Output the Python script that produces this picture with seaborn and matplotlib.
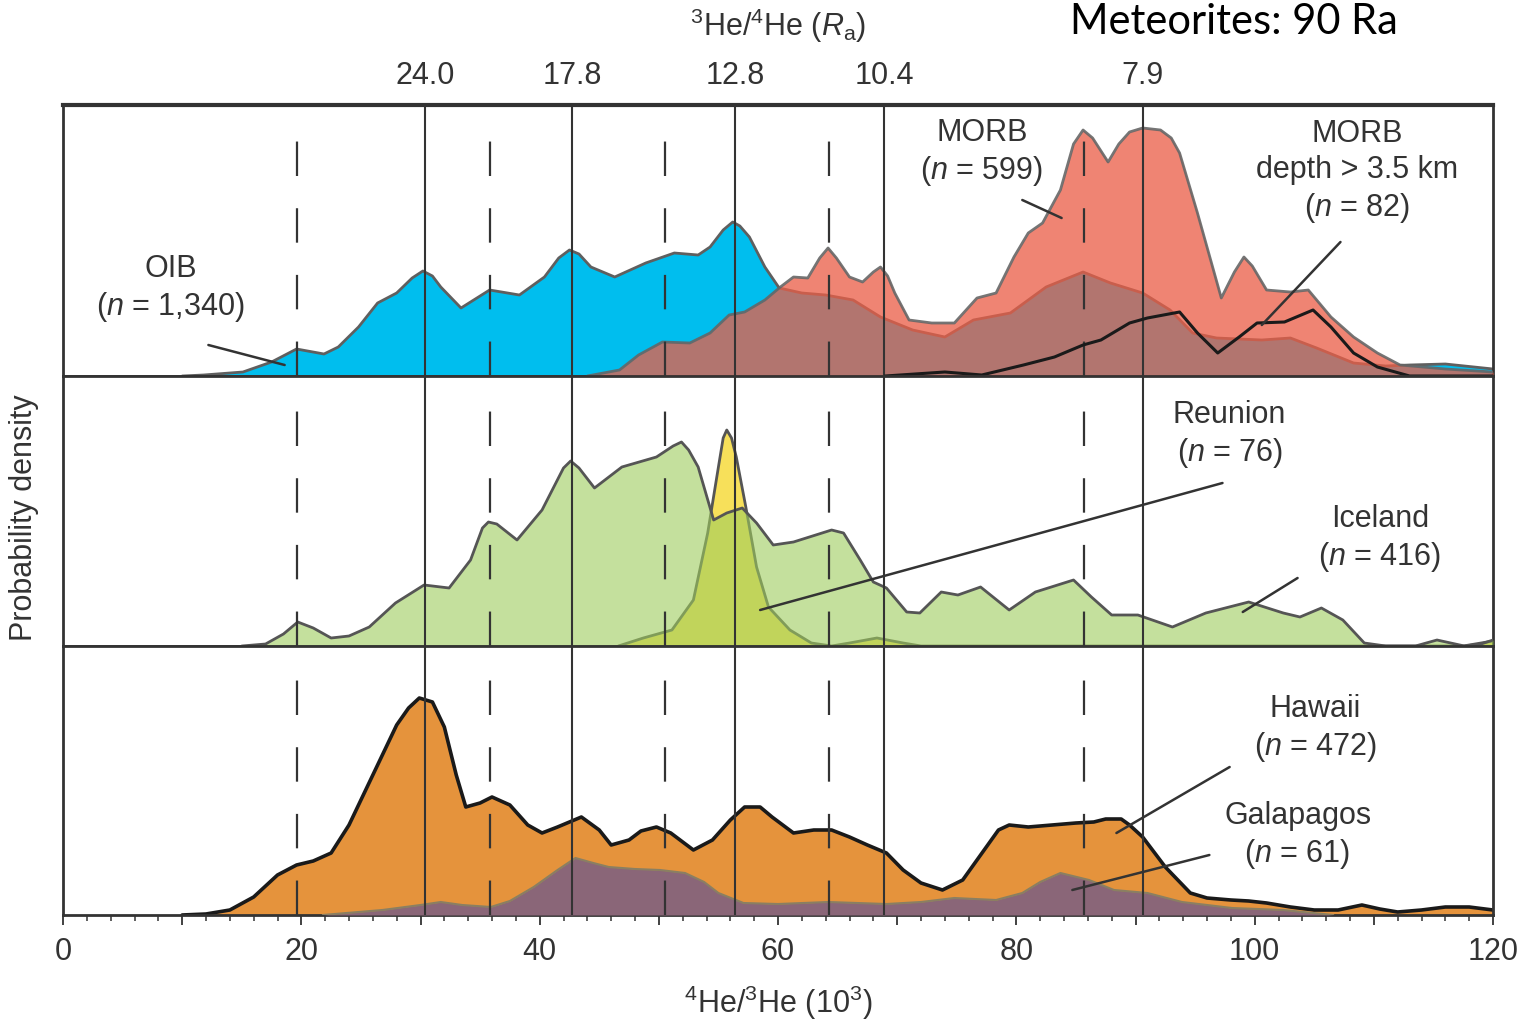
import numpy as np
import matplotlib
matplotlib.use("Agg")
import matplotlib.pyplot as plt
import seaborn as sns
from matplotlib.ticker import MultipleLocator, FuncFormatter

# ── Data (densities in arbitrary units) ───────────────────────────────────────
oib_x = [10, 11.8, 15.1, 17.5, 19.6, 21.9, 23.1, 24.8, 26.4, 28.0, 29.3, 30.2, 31.0, 31.7,
         33.4, 35.8, 38.3, 40.4, 41.6, 42.5, 43.3, 44.3, 46.3, 48.9, 51.3, 53.3, 54.3, 55.4,
         56.2, 56.8, 57.6, 58.9, 60.1, 62.0, 64.0, 66.3, 68.6, 71.3, 74.0, 76.4, 79.5, 82.5,
         85.6, 87.9, 90.6, 92.9, 94.8, 96.8, 100.6, 103.0, 105.2, 108.3, 111.0, 113.0, 116.0,
         120.0]
oib_y = [0, 1, 4, 14, 27, 22, 29, 49, 73, 83, 98, 105, 100, 89,
         68, 86, 81, 99, 118, 126, 122, 109, 99, 113, 123, 121, 129, 146,
         154, 150, 139, 109, 88, 83, 81, 76, 59, 46, 39, 56, 63, 89,
         104, 93, 83, 66, 43, 38, 36, 38, 28, 13, 10, 11, 12,
         7]

morb_x = [44.0, 46.7, 48.3, 50.3, 52.6, 54.3, 55.9, 57.2, 58.9, 60.2, 61.3, 62.5, 63.5, 64.2,
          64.9, 66.0, 67.1, 68.0, 68.6, 69.2, 69.8, 71.0, 72.9, 74.8, 76.7, 78.3, 79.8, 81.0,
          82.2, 83.7, 84.8, 85.6, 86.4, 87.7, 88.6, 89.5, 90.6, 92.1, 93.0, 93.7, 95.2, 97.2,
          98.3, 99.1, 99.8, 101.0, 103.0, 104.5, 106.4, 108.3, 110.3, 112.2, 116.0, 120.0]
morb_y = [0, 6, 21, 34, 33, 43, 61, 64, 76, 89, 99, 98, 118, 128,
          118, 99, 94, 104, 109, 100, 83, 56, 53, 53, 78, 83, 119, 143,
          153, 186, 232, 246, 238, 214, 232, 244, 248, 246, 238, 223, 163, 78,
          104, 119, 110, 86, 84, 86, 59, 39, 23, 11, 7, 4]

deep_x = [69.0, 74.0, 77.1, 80.6, 83.2, 85.6, 87.1, 89.5, 91.0, 93.7, 95.2, 96.9, 98.7,
          100.2, 102.5, 104.9, 106.4, 108.3, 110.3, 113.0, 120.0]
deep_y = [0, 4, 1, 11, 19, 31, 36, 53, 58, 64, 43, 23, 39,
          53, 54, 66, 49, 23, 9, 0, 0]

iceland_x = [15.0, 17.0, 18.5, 19.7, 21.0, 22.5, 24.0, 25.7, 27.9, 30.3, 32.4, 34.2, 35.2,
             35.7, 36.4, 38.1, 40.2, 42.0, 42.6, 43.3, 44.6, 46.9, 49.8, 51.2, 51.9, 52.5,
             53.3, 54.6, 55.7, 57.0, 58.2, 59.6, 61.3, 64.5, 65.5, 66.9, 68.0, 69.1, 70.8,
             71.9, 73.7, 75.1, 77.0, 79.4, 81.6, 84.8, 86.3, 88.0, 90.2, 93.1, 95.9, 99.5,
             102.4, 103.8, 105.6, 107.4, 109.2, 111.0, 113.5, 115.3, 117.6, 119.0, 120.0]
iceland_y = [0, 2, 12, 24, 18, 8, 10, 19, 43, 61, 58, 86, 118,
             124, 122, 106, 136, 178, 185, 178, 158, 179, 189, 200, 204, 196,
             179, 126, 133, 138, 123, 101, 104, 116, 113, 86, 64, 58, 34,
             33, 54, 51, 59, 36, 54, 66, 49, 31, 31, 19, 33, 44,
             33, 29, 38, 26, 3, 0, 0, 6, 0, 2, 6]

reunion_x = [46.6, 48.7, 51.1, 52.9, 54.1, 55.0, 55.4, 55.7, 56.1, 56.5, 57.3, 58.2, 59.2,
             61.0, 62.8, 64.5, 66.0, 68.3, 70.5, 72.0, 117.5, 120.0]
reunion_y = [0, 8, 16, 46, 113, 179, 208, 216, 208, 189, 139, 79, 39,
             16, 3, 0, 3, 8, 3, 0, 0, 5]

hawaii_x = [10, 12, 14, 16, 18, 19.6, 21, 22.5, 24, 26, 28, 29.0, 29.9, 31.0, 32.0, 33.0,
            33.8, 35, 36, 37.5, 39, 40.2, 41.5, 43.5, 45, 46, 47.5, 48.5, 49.8, 51, 52.9,
            54.5, 56, 57.2, 58.5, 59.5, 61.3, 63, 64.5, 66, 67.5, 69.1, 70.5, 72, 73.8, 75.5,
            77, 78.5, 79.4, 81, 83, 85, 86.5, 87.5, 88.8, 89.5, 90.6, 92.5, 94.6, 96, 98,
            99.5, 101, 103, 105, 107, 109, 110.5, 112, 114, 116, 118, 120]
hawaii_y = [0, 1, 5, 18, 40, 50, 54, 62, 90, 140, 190, 207, 217, 213, 188, 140,
            108, 112, 118, 110, 90, 82, 88, 98, 85, 70, 75, 84, 88, 82, 65,
            75, 95, 108, 108, 98, 82, 85, 85, 78, 70, 62, 45, 32, 25, 35,
            60, 85, 90, 88, 90, 92, 93, 96, 96, 90, 78, 48, 22, 17, 15,
            14, 12, 8, 5, 5, 10, 6, 3, 5, 8, 8, 5]

galapagos_x = [21.8, 26.8, 30.0, 31.7, 33.5, 35.9, 37.5, 39.5, 41.5, 43.0, 44.5, 45.8, 48.0,
               50.1, 52.2, 53.8, 55.0, 57.1, 60.0, 64.2, 69.1, 72.0, 74.8, 78.3, 80.5, 82.0,
               83.7, 86.1, 88.2, 91.0, 93.9, 98.1, 102.4, 106.6]
galapagos_y = [0, 5, 10, 13, 10, 8, 14, 28, 45, 57, 52, 48, 46,
               45, 42, 33, 22, 12, 11, 13, 11, 13, 17, 15, 22, 33,
               42, 35, 25, 22, 13, 7, 5, 0]

solid_x = [30.4, 42.7, 56.4, 68.9, 90.6]
ra_labels = ["24.0", "17.8", "12.8", "10.4", "7.9"]
dashed_x = [19.6, 35.8, 50.5, 64.3, 85.7]

# label text, text position, leader line (from -> to)
labels_top = [
    ("OIB\n($n$ = 1,340)", (9.0, 87), (12.2, 31), (18.6, 11)),
    ("MORB\n($n$ = 599)", (77.1, 223), (80.5, 176), (83.8, 158)),
    ("MORB\ndepth > 3.5 km\n($n$ = 82)", (108.6, 204), (107.2, 134), (100.6, 51)),
]
labels_mid = [
    ("Reunion\n($n$ = 76)", (97.9, 211), (97.3, 163), (58.5, 36)),
    ("Iceland\n($n$ = 416)", (110.5, 107), (103.6, 68), (99.0, 34)),
]
labels_bot = [
    ("Hawaii\n($n$ = 472)", (105.1, 186), (97.9, 148), (88.4, 82)),
    ("Galapagos\n($n$ = 61)", (103.6, 79), (96.2, 60), (84.7, 25)),
]

# ── Style ─────────────────────────────────────────────────────────────────────
sns.set_theme(style="white")
plt.rcParams["font.family"] = ["Liberation Sans", "DejaVu Sans"]
plt.rcParams["mathtext.fontset"] = "custom"
plt.rcParams["mathtext.rm"] = "Liberation Sans"
plt.rcParams["mathtext.it"] = "Liberation Sans:italic"
TXT = "#333333"
EDGE = "#333333"

fig = plt.figure(figsize=(15.26, 10.24), dpi=100)
L, W = 63 / 1526, 1430 / 1526
boxes = [(105, 376), (376, 646), (646, 915)]
axes = [fig.add_axes([L, 1 - b / 1024, W, (b - t) / 1024]) for t, b in boxes]
ylims = [271, 270, 269]

for ax, ym in zip(axes, ylims):
    ax.set_xlim(0, 120)
    ax.set_ylim(0, ym)
    ax.set_yticks([])
    ax.set_xticks([])
    for s in ax.spines.values():
        s.set_color(EDGE)
        s.set_linewidth(2)
    for xv in solid_x:
        ax.axvline(xv, color=EDGE, lw=1.5, zorder=5)
    for xv in dashed_x:
        ax.axvline(xv, ymin=0, ymax=0.88, color=EDGE, lw=1.6,
                   linestyle=(0, (15.5, 14.5)), zorder=5)

# ── Top panel: OIB / MORB ─────────────────────────────────────────────────────
ax = axes[0]
ax.fill_between(oib_x, 0, oib_y, color="#00BEEE", lw=0, zorder=1)
sns.lineplot(x=oib_x, y=oib_y, ax=ax, color="#5f5f5f", lw=2, sort=False, zorder=2)
ax.fill_between(morb_x, 0, morb_y, color=(0.92, 0.37, 0.28), alpha=0.76, lw=0, zorder=3)
sns.lineplot(x=morb_x, y=morb_y, ax=ax, color="#666666", lw=2, alpha=0.9, sort=False, zorder=4)
sns.lineplot(x=deep_x, y=deep_y, ax=ax, color="#1a1a1a", lw=2.2, sort=False, zorder=6)
ax.spines["top"].set_linewidth(3)

# ── Middle panel: Reunion / Iceland ───────────────────────────────────────────
ax = axes[1]
ax.fill_between(reunion_x, 0, reunion_y, color="#F7E05A", lw=0, zorder=1)
sns.lineplot(x=reunion_x, y=reunion_y, ax=ax, color="#555555", lw=2, sort=False, zorder=2)
ax.fill_between(iceland_x, 0, iceland_y, color=(0.62, 0.80, 0.36), alpha=0.6, lw=0, zorder=3)
sns.lineplot(x=iceland_x, y=iceland_y, ax=ax, color="#555555", lw=2, sort=False, zorder=4)

# ── Bottom panel: Hawaii / Galapagos ──────────────────────────────────────────
ax = axes[2]
ax.fill_between(hawaii_x, 0, hawaii_y, color="#E5933C", lw=0, zorder=1)
sns.lineplot(x=hawaii_x, y=hawaii_y, ax=ax, color="#1a1a1a", lw=2.6, sort=False, zorder=2)
ax.fill_between(galapagos_x, 0, galapagos_y, color="#8A6678", lw=0, zorder=3)
sns.lineplot(x=galapagos_x, y=galapagos_y, ax=ax, color="#8A7F62", lw=1.5, sort=False, zorder=4)

for a in axes:
    if a.get_legend() is not None:
        a.get_legend().remove()
    a.set_xlabel("")
    a.set_ylabel("")

# annotations
for a, labs in zip(axes, [labels_top, labels_mid, labels_bot]):
    for txt, (tx, ty), p0, p1 in labs:
        a.text(tx, ty, txt, ha="center", va="center", fontsize=22, color=TXT,
               linespacing=1.25, zorder=10)
        a.plot([p0[0], p1[0]], [p0[1], p1[1]], color="#333333", lw=1.8, zorder=9)

# bottom axis ticks
ax = axes[2]
ax.xaxis.set_major_locator(MultipleLocator(10))
ax.xaxis.set_minor_locator(MultipleLocator(2))
ax.xaxis.set_major_formatter(FuncFormatter(lambda v, p: f"{v:.0f}" if round(v) % 20 == 0 else ""))
ax.tick_params(axis="x", which="major", bottom=True, direction="out", length=7.5, width=1.3,
               color=EDGE, labelsize=22, labelcolor=TXT, pad=8)
ax.tick_params(axis="x", which="minor", bottom=True, direction="out", length=4.5, width=1.1,
               color=EDGE)

# top Ra axis
top = axes[0].twiny()
top.set_xlim(0, 120)
top.set_xticks(solid_x)
top.set_xticklabels(ra_labels)
top.tick_params(axis="x", length=0, labelsize=22, labelcolor=TXT, pad=10)
for s in top.spines.values():
    s.set_visible(False)
top.set_yticks([])

fig.text(778 / 1526, 1 - 26 / 1024, r"$^{3}$He/$^{4}$He ($R_{\mathrm{a}}$)", ha="center",
         va="center", fontsize=22, color=TXT)
fig.text(778 / 1526, 1 - 1003 / 1024, r"$^{4}$He/$^{3}$He (10$^{3}$)", ha="center",
         va="center", fontsize=22, color=TXT)
fig.text(24 / 1526, 1 - 518 / 1024, "Probability density", rotation=90, ha="center",
         va="center", fontsize=22, color=TXT)
fig.text(1070 / 1526, 1 - 34 / 1024, "Meteorites: 90 Ra", ha="left", va="baseline",
         fontsize=30, color="black", family=["Lato", "DejaVu Sans"])

fig.savefig("out.png", dpi=100)
